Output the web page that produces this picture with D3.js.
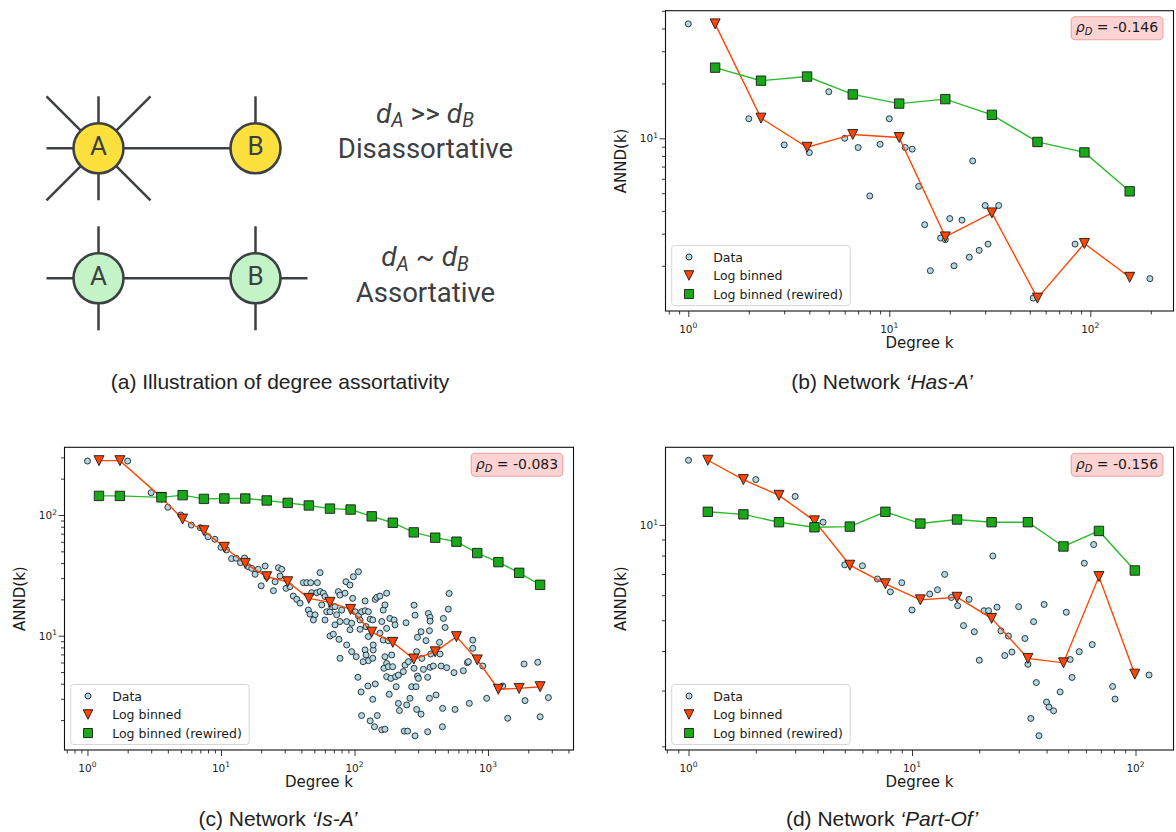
<!DOCTYPE html>
<html><head><meta charset="utf-8">
<script src="https://cdn.jsdelivr.net/npm/d3@7"></script>
<style>body{margin:0;background:#fff} svg{display:block}</style>
</head><body>
<script>
// ================= DATA =================
// (b) Network 'Has-A'
const hasA_data = [[1,42.4],[2,12.8],[3,9.2],[4,8.35],[5,18.0],[6,10.0],[7,8.9],[8,4.83],[9,9.28],[10,12.8],[12,8.9],[13,8.72],[14,5.45],[15,3.36],[16,1.88],[18,2.84],[19,2.78],[20,3.63],[21,2.0],[23,3.56],[25,2.23],[26,7.52],[28,2.43],[30,4.28],[31,2.63],[35,4.28],[52,1.33],[84,2.63],[198,1.7]];
const hasA_binK = [1.36,2.3,3.9,6.58,11.2,19.0,32.4,54.6,93.5,157];
const hasA_binAnnd = [42.4,12.9,8.93,10.5,10.1,2.88,3.9,1.33,2.65,1.73];
const hasA_rewAnnd = [24.4,20.7,21.8,17.4,15.5,16.4,13.45,9.55,8.37,5.12];
const hasA_rho = "-0.146";

// (c) Network 'Is-A'
const isA_data = [[1,280],[2,280],[3,153],[4,116],[5,100],[6,82.6],[7,78.5],[8,66.1],[9,62.9],[10,54],[11,51.3],[12,43.5],[13,43.8],[14,40.3],[15,44],[16,37.3],[17,36.1],[18,32.3],[19,35.5],[20,25.9],
[21.4,37.8],[22,30.8],[24.7,23.6],[25.4,28.0],[26.9,36.6],[28.5,35.5],[27.7,31.2],[30.7,24.7],[32.9,25.5],[34.8,21.3],[36.9,20.0],[39.1,18.6],[41.4,27.5],[43.9,27.5],[47,27.5],[52.7,27.5],[55.2,33.3],[47.8,22.7],[52.1,22.7],[55.2,23.2],[58.4,22.5],[60.1,21.1],[56.8,18.0],[45.1,16.3],[46.4,15.1],[50.6,14.9],[49.2,13.5],[60.1,13.5],[61.9,15.8],[65.6,15.8],[67.5,17.4],[71.4,17.4],[75.7,23.2],[77.8,21.7],[84.9,22.5],[86.3,28.0],[92.5,26.3],[98,30.8],[107,33.9],[96.8,20.4],[80.1,16.3],[73.5,14.9],[77.8,13.1],[71.4,12.3],[65.6,9.95],[69.4,10.3],[76.5,9.33],[77.8,6.5],[87.3,8.38],[95.2,7.38],[103,6.7],[92.5,11.2],[87.3,13.1],[95.2,12.7],[101,15.8],[107,14.6],[110,13.5],[110,11.3],[113,15.8],[120,19.4],[120,16.1],[127,15.8],[131,13.7],[137,13.5],[122,11.9],[127,9.83],[120,7.62],[122,6.92],[127,6.21],[116,6.09],[137,6.5],[138,7.62],[138,8.38],[143,20.0],[147,20.8],[155,21.3],[164,16.3],[174,22.5],[169,18.0],[160,13.1],[184,13.9],[198,13.5],[201,12.3],[174,11.5],[155,10.5],[164,9.21],[179,9.09],[190,6.92],[169,6.7],[174,5.9],[166,5.37],[179,5.54],[193,5.54],[174,4.58],[187,4.43],[203,4.58],[213,4.72],[205,3.78],[232,5.04],[239,5.71],[253,6.09],[243,12.8],[106,4.52],[126,3.83],[143,3.98],[112,3.42],[137,2.97],[182,3.27],[213,2.75],[217,2.4],[246,2.67],[113,2.18],[148,2.18],[131,1.97],[141,1.76],[160,1.66],[169,1.68],[236,1.62],[250,1.62],
[511,22.4],[279,17.9],[284,14.8],[357,15.3],[368,14.2],[368,13.2],[463,13.9],[504,16.6],[477,11.7],[364,11.0],[315,10.8],[296,9.69],[343,9.1],[433,8.81],[292,7.38],[319,6.49],[372,7.05],[437,7.05],[279,5.37],[328,5.26],[368,5.47],[389,5.61],[445,5.61],[490,5.43],[296,4.63],[301,4.43],[353,4.52],[556,4.94],[653,5.13],[700,5.98],[712,6.1],[768,9.2],[768,7.86],[913,5.61],[268,3.78],[289,3.78],[260,3.03],[364,3.03],[408,3.23],[292,2.45],[315,2.24],[457,2.5],[566,2.45],[724,2.75],[977,3.03],[1288,3.83],[1892,2.9],[1862,5.83],[2357,6.02],[2830,3.07],[1403,2.07],[2455,2.13],[455,1.76],[353,1.6],[284,1.48]];
const isA_binK = [1.22,1.75,3.58,5.16,7.45,10.6,15.2,22.0,31.6,45.5,65.5,93.5,134.5,193.5,278,402,580,830,1195,1710,2455];
const isA_binAnnd = [282,282,140,92.6,74.1,54,39.7,30.8,28.0,20.4,18.9,16.5,10.7,8.81,6.41,7.35,9.82,6.3,3.6,3.66,3.78];
const isA_rewAnnd = [144,144,140,146,136,137,137,132,126,120,113,111,97.5,86.3,71.8,64.9,60.1,48.4,40.7,33.2,26.4];
const isA_rho = "-0.083";

// (d) Network 'Part-Of'
const partOf_data = [[1,16.0],[2,13.9],[3,12.3],[4,10.2],[5,7.48],[6,7.43],[7,6.75],[8,6.15],[9,6.57],[10,5.39],[12,6.05],[13,6.24],[14,6.98],[15,5.9],[16,5.56],[17,4.81],[18,5.82],[19,4.6],[20,3.74],[21,5.36],[22,5.36],[23,7.98],[24,5.5],[25,4.63],[26,3.87],[27,4.46],[28,3.97],[30,5.52],[32,4.38],[33,3.63],[34,2.45],[35,4.95],[36,3.18],[37,2.16],[39,5.61],[40,2.76],[41,2.66],[43,2.59],[46,2.97],[49,5.3],[51,3.76],[52,3.3],[56,3.98],[59,7.57],[64,4.19],[65,8.67],[79,3.09],[81,2.82],[115,3.36]];
const partOf_binK = [1.22,1.76,2.54,3.66,5.27,7.60,10.9,15.9,22.7,33.0,47.6,68.6,99.3];
const partOf_binAnnd = [16.0,13.9,12.4,10.3,7.46,6.52,5.80,5.91,5.07,3.79,3.67,6.87,3.38];
const partOf_rewAnnd = [11.0,10.8,10.2,9.83,9.88,11.0,10.1,10.4,10.2,10.2,8.55,9.57,7.18];
const partOf_rho = "-0.156";

// Tick labels (exponents of labelled decades)
const hasA_xTicks = [0,1,2], hasA_yTicks = [1];
const isA_xTicks = [0,1,2,3], isA_yTicks = [1,2];
const partOf_xTicks = [0,1,2], partOf_yTicks = [1];

const legendLabels = ["Data","Log binned","Log binned (rewired)"];
const xLabel = "Degree k", yLabel = "ANND(k)";

// ================= DRAWING =================
const FONT_MPL = "'DejaVu Sans', sans-serif";
const FONT_CAP = "'Liberation Sans', Arial, sans-serif";
const FONT_ILL = "Roboto, 'Open Sans', sans-serif";
const C_DATA = '#add8e6', C_TRI = '#ff4500', C_SQ = '#18a818', C_SQLINE = '#2cba2c';

const svg = d3.select('body').append('svg').attr('width',1176).attr('height',832);

function triPath(cx,cy,s){ return `M${cx-s},${cy-s}L${cx+s},${cy-s}L${cx},${cy+s}Z`; }
function sqPath(cx,cy,s){ return `M${cx-s},${cy-s}h${2*s}v${2*s}h${-2*s}Z`; }

function supText(sel, exp){
  sel.append('tspan').text('10');
  sel.append('tspan').attr('dy','-0.55em').attr('font-size','0.72em').text(exp);
}

function minorTicks(lo, hi){
  const out=[];
  for(let e=Math.floor(lo); e<=Math.ceil(hi); e++) for(let m=2;m<=9;m++){
    const l=Math.log10(m)+e; if(l>=lo && l<=hi) out.push(m*Math.pow(10,e));
  }
  return out;
}

function drawPanel(p){
  const L = p.L;
  const x = d3.scaleLog().domain([Math.pow(10,L.xl[0]), Math.pow(10,L.xl[1])]).range([L.left, L.right]);
  const y = d3.scaleLog().domain([Math.pow(10,L.yl[0]), Math.pow(10,L.yl[1])]).range([L.bottom, L.top]);
  const g = svg.append('g');
  const cid = 'clip-'+p.id;
  svg.append('clipPath').attr('id',cid).append('rect')
    .attr('x',L.left).attr('y',L.top).attr('width',L.right-L.left).attr('height',L.bottom-L.top);
  const pl = g.append('g').attr('clip-path',`url(#${cid})`);

  pl.selectAll('circle.d').data(p.data).join('circle')
    .attr('cx',d=>x(d[0])).attr('cy',d=>y(d[1])).attr('r',3)
    .attr('fill',C_DATA).attr('stroke','#222').attr('stroke-width',0.9);

  const bin = p.binK.map((k,i)=>[k,p.binAnnd[i]]);
  const rew = p.binK.map((k,i)=>[k,p.rewAnnd[i]]);
  const line = d3.line().x(d=>x(d[0])).y(d=>y(d[1]));

  pl.append('path').attr('d',line(bin)).attr('fill','none').attr('stroke',C_TRI).attr('stroke-width',1.4);
  pl.selectAll('path.t').data(bin).join('path').attr('class','t')
    .attr('d',d=>triPath(x(d[0]),y(d[1]),5)).attr('fill',C_TRI).attr('stroke','#1a1a1a').attr('stroke-width',0.9);

  pl.append('path').attr('d',line(rew)).attr('fill','none').attr('stroke',C_SQLINE).attr('stroke-width',1.4);
  pl.selectAll('path.s').data(rew).join('path').attr('class','s')
    .attr('d',d=>sqPath(x(d[0]),y(d[1]),4.7)).attr('fill',C_SQ).attr('stroke','#1a1a1a').attr('stroke-width',0.9);

  // axes
  const majX = p.xTicks.map(e=>Math.pow(10,e));
  const majY = p.yTicks.map(e=>Math.pow(10,e));
  const axX = g.append('g').attr('transform',`translate(0,${L.bottom})`);
  axX.call(d3.axisBottom(x).tickValues(majX).tickSize(6).tickFormat(()=>''));
  const axXm = g.append('g').attr('transform',`translate(0,${L.bottom})`);
  axXm.call(d3.axisBottom(x).tickValues(minorTicks(L.xl[0],L.xl[1])).tickSize(3.5).tickFormat(()=>''));
  const axY = g.append('g').attr('transform',`translate(${L.left},0)`);
  axY.call(d3.axisLeft(y).tickValues(majY).tickSize(6).tickFormat(()=>''));
  const axYm = g.append('g').attr('transform',`translate(${L.left},0)`);
  axYm.call(d3.axisLeft(y).tickValues(minorTicks(L.yl[0],L.yl[1])).tickSize(3.5).tickFormat(()=>''));
  [axX,axXm,axY,axYm].forEach(a=>{ a.select('.domain').remove(); a.selectAll('line').attr('stroke','#222').attr('stroke-width',0.9); a.selectAll('text').remove(); });

  g.selectAll('text.xt').data(p.xTicks).join('text')
    .attr('x',e=>x(Math.pow(10,e))).attr('y',L.bottom+21.5).attr('text-anchor','middle')
    .attr('font-family',FONT_MPL).attr('font-size',10.5).attr('fill','#222')
    .each(function(e){ supText(d3.select(this), e); });
  g.selectAll('text.yt').data(p.yTicks).join('text')
    .attr('x',L.left-7.5).attr('y',e=>y(Math.pow(10,e))+3.8).attr('text-anchor','end')
    .attr('font-family',FONT_MPL).attr('font-size',10.5).attr('fill','#222')
    .each(function(e){ supText(d3.select(this), e); });

  // spine
  g.append('rect').attr('x',L.left).attr('y',L.top).attr('width',L.right-L.left).attr('height',L.bottom-L.top)
    .attr('fill','none').attr('stroke','#111').attr('stroke-width',1.1);

  // axis labels
  g.append('text').attr('x',(L.left+L.right)/2).attr('y',L.bottom+37).attr('text-anchor','middle')
    .attr('font-family',FONT_MPL).attr('font-size',15).attr('fill','#1a1a1a').text(xLabel);
  g.append('text').attr('transform',`translate(${L.left-40},${(L.top+L.bottom)/2}) rotate(-90)`)
    .attr('text-anchor','middle').attr('font-family',FONT_MPL).attr('font-size',15).attr('fill','#1a1a1a').text(yLabel);

  // legend
  const lx = L.left+6.2, lw = 178.5, lh = 60, ly = L.bottom-5.5-lh;
  const lg = g.append('g');
  lg.append('rect').attr('x',lx).attr('y',ly).attr('width',lw).attr('height',lh).attr('rx',3)
    .attr('fill','#fff').attr('fill-opacity',0.8).attr('stroke','#d6d6d6').attr('stroke-width',1);
  const rows = legendLabels.map((t,i)=>({t, i, cy: ly+11.5+i*18.5}));
  rows.forEach(r=>{
    const mx = lx+17.3;
    if(r.i===0) lg.append('circle').attr('cx',mx).attr('cy',r.cy).attr('r',3).attr('fill',C_DATA).attr('stroke','#222').attr('stroke-width',0.9);
    if(r.i===1) lg.append('path').attr('d',triPath(mx,r.cy,4.8)).attr('fill',C_TRI).attr('stroke','#1a1a1a').attr('stroke-width',0.9);
    if(r.i===2) lg.append('path').attr('d',sqPath(mx,r.cy,4.5)).attr('fill',C_SQ).attr('stroke','#1a1a1a').attr('stroke-width',0.9);
    lg.append('text').attr('x',lx+41.5).attr('y',r.cy+4.6).attr('font-family',FONT_MPL).attr('font-size',12.5).attr('fill','#1a1a1a').text(r.t);
  });

  // rho box
  const rg = g.append('g');
  const rect = rg.append('rect');
  const t = rg.append('text').attr('x',L.right-15.3).attr('y',L.top+21.6).attr('text-anchor','end')
    .attr('font-family',FONT_MPL).attr('font-size',14).attr('fill','#1a1a1a');
  t.append('tspan').attr('font-style','italic').text('ρ');
  t.append('tspan').attr('font-style','italic').attr('font-size',10).attr('dy',3).text('D');
  t.append('tspan').attr('dy',-3).text(' = ' + p.rho);
  const bb = t.node().getBBox();
  rect.attr('x',bb.x-4.6).attr('y',L.top+6).attr('width',bb.width+9.2).attr('height',23).attr('rx',4)
    .attr('fill','#fcd3d3').attr('stroke','#f2a0a0').attr('stroke-width',1.1);

  // caption
  const cap = svg.append('text').attr('x',p.capX).attr('y',p.capY).attr('text-anchor','middle')
    .attr('font-family',FONT_CAP).attr('font-size',21).attr('fill','#222');
  cap.append('tspan').text(p.capPre);
  cap.append('tspan').attr('font-style','italic').text(p.capName);
}

drawPanel({id:'b', data:hasA_data, binK:hasA_binK, binAnnd:hasA_binAnnd, rewAnnd:hasA_rewAnnd, rho:hasA_rho,
  xTicks:hasA_xTicks, yTicks:hasA_yTicks,
  L:{left:665.5,right:1173.5,top:10.7,bottom:311,xl:[-0.1134,2.414],yl:[0.0532,1.6996]},
  capX:882, capY:389, capPre:'(b) Network ', capName:'‘Has-A’'});
drawPanel({id:'c', data:isA_data, binK:isA_binK, binAnnd:isA_binAnnd, rewAnnd:isA_rewAnnd, rho:isA_rho,
  xTicks:isA_xTicks, yTicks:isA_yTicks,
  L:{left:64.5,right:573.5,top:447.3,bottom:750,xl:[-0.172,3.640],yl:[0.053,2.561]},
  capX:278, capY:826, capPre:'(c) Network ', capName:'‘Is-A’'});
drawPanel({id:'d', data:partOf_data, binK:partOf_binK, binAnnd:partOf_binAnnd, rewAnnd:partOf_rewAnnd, rho:partOf_rho,
  xTicks:partOf_xTicks, yTicks:partOf_yTicks,
  L:{left:665.5,right:1173.5,top:447.3,bottom:750,xl:[-0.103,2.170],yl:[0.2895,1.245]},
  capX:882, capY:826, capPre:'(d) Network ', capName:'‘Part-Of’'});

// ================= (a) Illustration =================
const illRows = [
  {cy:148.3, fill:'#fce03e', aSpokes:[[-1,0],[-1,-1],[0,-1],[1,-1],[-1,1],[0,1],[1,1]], bSpokes:[[0,-1]],
   top:['d','A',' >> ','d','B'], bottom:'Disassortative', topY:122.5, botY:158.3},
  {cy:278.3, fill:'#c4f3c7', aSpokes:[[-1,0],[0,-1],[0,1]], bSpokes:[[1,0],[0,-1],[0,1]],
   top:['d','A',' ~ ','d','B'], bottom:'Assortative', topY:266, botY:301.7}
];
const ax0 = 98.5, bx0 = 255.5, R = 25, SP = 52, INK = '#3c4043';
const ga = svg.append('g');
illRows.forEach(r=>{
  const spokes = r.aSpokes.map(s=>[ax0,s]).concat(r.bSpokes.map(s=>[bx0,s]));
  spokes.forEach(([cx,s])=>{
    ga.append('line').attr('x1',cx).attr('y1',r.cy).attr('x2',cx+s[0]*SP).attr('y2',r.cy+s[1]*SP)
      .attr('stroke',INK).attr('stroke-width',2.5);
  });
  ga.append('line').attr('x1',ax0).attr('y1',r.cy).attr('x2',bx0).attr('y2',r.cy).attr('stroke',INK).attr('stroke-width',2.5);
  [[ax0,'A'],[bx0,'B']].forEach(([cx,lab])=>{
    ga.append('circle').attr('cx',cx).attr('cy',r.cy).attr('r',R).attr('fill',r.fill).attr('stroke',INK).attr('stroke-width',2.6);
    ga.append('text').attr('x',cx).attr('y',r.cy+7).attr('text-anchor','middle').attr('font-family',FONT_ILL)
      .attr('font-size',26).attr('fill',INK).text(lab);
  });
  const tt = ga.append('text').attr('x',425).attr('y',r.topY).attr('text-anchor','middle')
    .attr('font-family',FONT_ILL).attr('font-size',28).attr('fill',INK);
  tt.append('tspan').attr('font-style','italic').text(r.top[0]);
  tt.append('tspan').attr('font-style','italic').attr('font-size',19.5).attr('dy',4.5).text(r.top[1]);
  tt.append('tspan').attr('dy',-4.5).text(r.top[2]);
  tt.append('tspan').attr('font-style','italic').text(r.top[3]);
  tt.append('tspan').attr('font-style','italic').attr('font-size',19.5).attr('dy',4.5).text(r.top[4]);
  ga.append('text').attr('x',425.5).attr('y',r.botY).attr('text-anchor','middle')
    .attr('font-family',FONT_ILL).attr('font-size',27.5).attr('fill',INK).text(r.bottom);
});
svg.append('text').attr('x',280).attr('y',389).attr('text-anchor','middle')
  .attr('font-family',FONT_CAP).attr('font-size',21).attr('fill','#222').text('(a) Illustration of degree assortativity');
</script>
</body></html>
